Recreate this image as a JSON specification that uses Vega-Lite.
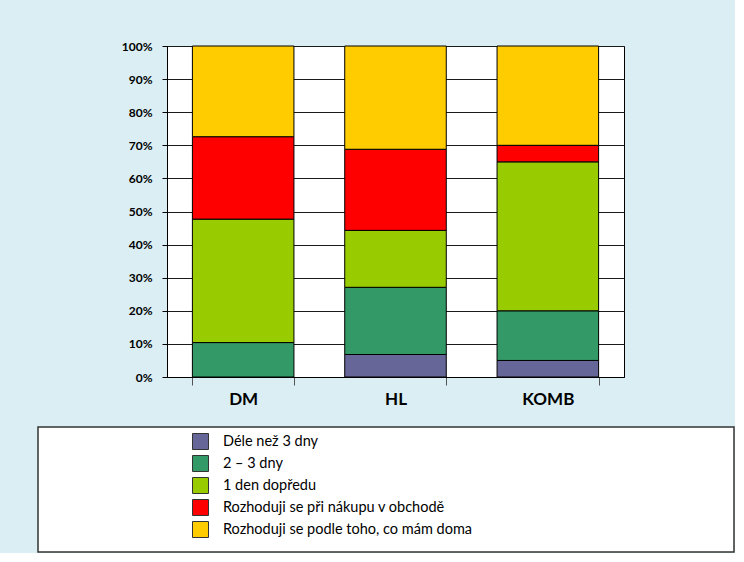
{
  "$schema": "https://vega.github.io/schema/vega-lite/v6.json",
  "background": "#daeef3",
  "padding": {"left": 37, "top": 39, "right": 0, "bottom": 0},
  "spacing": 18,
  "config": {
    "font": "Lato",
    "view": {"fill": "white", "stroke": "black", "strokeWidth": 1}
  },
  "datasets": {
    "answers": [
      {"group": "DM", "answer": "Déle než 3 dny", "rank": 1, "share": 0},
      {"group": "DM", "answer": "2 – 3 dny", "rank": 2, "share": 10.4},
      {"group": "DM", "answer": "1 den dopředu", "rank": 3, "share": 37.3},
      {"group": "DM", "answer": "Rozhoduji se při nákupu v obchodě", "rank": 4, "share": 24.9},
      {"group": "DM", "answer": "Rozhoduji se podle toho, co mám doma", "rank": 5, "share": 27.4},
      {"group": "HL", "answer": "Déle než 3 dny", "rank": 1, "share": 6.8},
      {"group": "HL", "answer": "2 – 3 dny", "rank": 2, "share": 20.3},
      {"group": "HL", "answer": "1 den dopředu", "rank": 3, "share": 17.2},
      {"group": "HL", "answer": "Rozhoduji se při nákupu v obchodě", "rank": 4, "share": 24.5},
      {"group": "HL", "answer": "Rozhoduji se podle toho, co mám doma", "rank": 5, "share": 31.2},
      {"group": "KOMB", "answer": "Déle než 3 dny", "rank": 1, "share": 5},
      {"group": "KOMB", "answer": "2 – 3 dny", "rank": 2, "share": 15},
      {"group": "KOMB", "answer": "1 den dopředu", "rank": 3, "share": 45},
      {"group": "KOMB", "answer": "Rozhoduji se při nákupu v obchodě", "rank": 4, "share": 5},
      {"group": "KOMB", "answer": "Rozhoduji se podle toho, co mám doma", "rank": 5, "share": 30}
    ]
  },
  "vconcat": [
    {
      "spacing": 0,
      "hconcat": [
        {
          "width": 82,
          "height": 331,
          "view": {"fill": null, "stroke": null},
          "data": {"values": []},
          "mark": "rule",
          "encoding": {}
        },
        {
          "width": 457,
          "height": 331,
          "data": {"name": "answers"},
          "mark": {"type": "bar", "stroke": "black", "strokeWidth": 1},
          "encoding": {
            "x": {
              "field": "group",
              "type": "nominal",
              "sort": ["DM", "HL", "KOMB"],
              "scale": {"paddingInner": 0.3333, "paddingOuter": 0.1667},
              "axis": {
                "title": null,
                "labelAngle": 0,
                "labelFont": "Lato",
                "labelFontSize": 17,
                "labelFontWeight": "bold",
                "labelColor": "black",
                "labelPadding": 6,
                "tickBand": "extent",
                "tickSize": 8,
                "tickColor": "#555",
                "domainColor": "black",
                "grid": false
              }
            },
            "y": {
              "field": "share",
              "type": "quantitative",
              "stack": "zero",
              "scale": {"domain": [0, 100], "nice": false},
              "axis": {
                "title": null,
                "values": [0, 10, 20, 30, 40, 50, 60, 70, 80, 90, 100],
                "labelExpr": "datum.value + '%'",
                "labelFont": "Lato",
                "labelFontSize": 12,
                "labelFontWeight": "bold",
                "labelColor": "black",
                "labelPadding": 10,
                "tickSize": 5,
                "tickColor": "black",
                "domainColor": "black",
                "grid": true,
                "gridColor": "#1a1a1a",
                "gridWidth": 1.2,
                "minExtent": 45,
                "maxExtent": 45
              }
            },
            "color": {
              "field": "answer",
              "type": "nominal",
              "scale": {
                "domain": [
                  "Déle než 3 dny",
                  "2 – 3 dny",
                  "1 den dopředu",
                  "Rozhoduji se při nákupu v obchodě",
                  "Rozhoduji se podle toho, co mám doma"
                ],
                "range": ["#666699", "#339966", "#99cc00", "#ff0000", "#ffcc00"]
              },
              "legend": {
                "orient": "none",
                "legendX": 154,
                "legendY": 387,
                "title": null,
                "padding": 0,
                "symbolType": "square",
                "symbolSize": 256,
                "symbolStrokeColor": "#333",
                "symbolStrokeWidth": 1,
                "labelFont": "Lato",
                "labelFontSize": 14.5,
                "labelColor": "black",
                "labelOffset": 14,
                "labelLimit": 400,
                "rowPadding": 1
              }
            },
            "order": {"field": "rank", "type": "quantitative"}
          }
        }
      ]
    },
    {
      "width": 696,
      "height": 125,
      "view": {"fill": "white", "stroke": "#333", "strokeWidth": 1.5},
      "data": {"values": []},
      "mark": "rule",
      "encoding": {}
    }
  ]
}
